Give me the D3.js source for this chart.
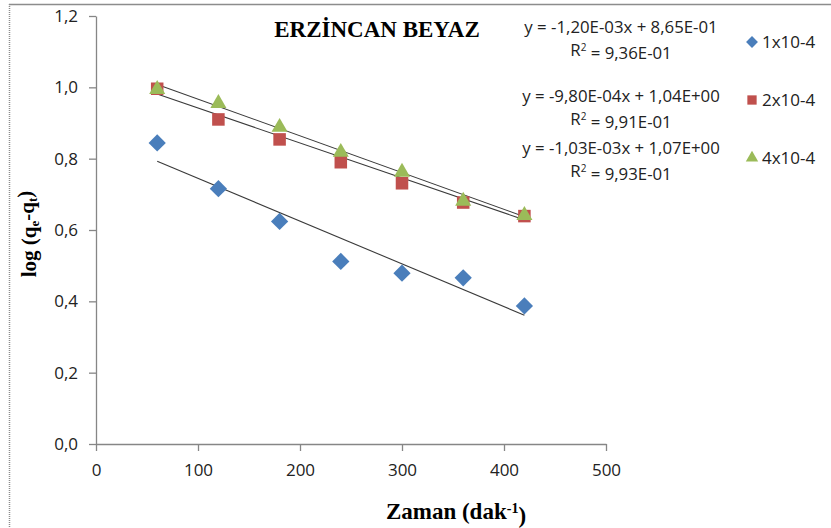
<!DOCTYPE html>
<html>
<head>
<meta charset="utf-8">
<script src="https://cdn.jsdelivr.net/npm/d3@7"></script>
<style>
  html, body { margin: 0; padding: 0; background: #fff; }
  svg { display: block; }
</style>
</head>
<body>
<div id="chart-container"></div>
<script>
// Data
const times = [60, 120, 180, 240, 300, 360, 420];
const series1 = [0.844, 0.716, 0.624, 0.512, 0.479, 0.466, 0.387];
const series2 = [0.996, 0.910, 0.854, 0.790, 0.731, 0.677, 0.639];
const series3 = [0.997, 0.958, 0.891, 0.821, 0.765, 0.684, 0.644];
const seriesNames = ["1x10-4", "2x10-4", "4x10-4"];
const slopes = [-1.20e-3, -9.80e-4, -1.03e-3];
const intercepts = [0.865, 1.04, 1.07];
const equations = [
  "y = -1,20E-03x + 8,65E-01",
  "y = -9,80E-04x + 1,04E+00",
  "y = -1,03E-03x + 1,07E+00"
];
const r2Values = ["9,36E-01", "9,91E-01", "9,93E-01"];
const xTicks = [0, 100, 200, 300, 400, 500];
const yTicks = [0, 0.2, 0.4, 0.6, 0.8, 1.0, 1.2];

const width = 831, height = 528;
const colors = ["#4A7EBB", "#C0504D", "#9BBB59"];
const shapes = [d3.symbolDiamond2, d3.symbolSquare2, d3.symbolTriangle2];
const markerSizes = [190, 200, 185];

const svg = d3.select("#chart-container")
  .append("svg")
  .attr("width", width)
  .attr("height", height);

// outer frame (top + dotted left edge)
svg.append("line")
  .attr("x1", 9).attr("x2", width).attr("y1", 4.5).attr("y2", 4.5)
  .attr("stroke", "#8c8c8c").attr("stroke-width", 1.5);
svg.append("line")
  .attr("x1", 9.5).attr("x2", 9.5).attr("y1", 4).attr("y2", height)
  .attr("stroke", "#8c8c8c").attr("stroke-width", 1.5)
  .attr("stroke-dasharray", "1,1");

const xScale = d3.scaleLinear().domain([0, 500]).range([96, 606]);
const yScale = d3.scaleLinear().domain([0, 1.2]).range([444, 16]);

const fmt = (d) => d3.format(".1f")(d).replace(".", ",");

const xAxis = svg.append("g")
  .attr("transform", `translate(0, ${yScale(0)})`)
  .call(d3.axisBottom(xScale).tickValues(xTicks).tickSize(7).tickPadding(10).tickSizeOuter(0));
const yAxis = svg.append("g")
  .attr("transform", `translate(${xScale(0)}, 0)`)
  .call(d3.axisLeft(yScale).tickValues(yTicks).tickFormat(fmt).tickSize(7).tickPadding(11).tickSizeOuter(0));

[xAxis, yAxis].forEach((g) => {
  g.selectAll("path, line").attr("stroke", "#868686").attr("stroke-width", 1.3);
  g.selectAll("text")
    .attr("fill", "#222")
    .style("font-family", "'Open Sans', sans-serif")
    .style("font-size", "17px");
});
xAxis.selectAll("text").attr("dy", "0.9em");

const allSeries = [series1, series2, series3];

// trendlines
allSeries.forEach((s, i) => {
  const x0 = d3.min(times), x1 = d3.max(times);
  svg.append("line")
    .attr("x1", xScale(x0)).attr("y1", yScale(slopes[i] * x0 + intercepts[i]))
    .attr("x2", xScale(x1)).attr("y2", yScale(slopes[i] * x1 + intercepts[i]))
    .attr("stroke", "#3a3a3a")
    .attr("stroke-width", 1.1);
});

// markers
allSeries.forEach((s, i) => {
  const sym = d3.symbol().type(shapes[i]).size(markerSizes[i]);
  svg.append("g")
    .selectAll("path")
    .data(times.map((t, k) => ({ x: t, y: s[k] })))
    .join("path")
    .attr("d", sym)
    .attr("transform", (d) => `translate(${xScale(d.x)}, ${yScale(d.y) + (i === 2 ? 1 : 0)})`)
    .attr("fill", colors[i]);
});

// title
svg.append("text")
  .attr("x", 377).attr("y", 37)
  .attr("text-anchor", "middle")
  .style("font-family", "'Liberation Serif', 'Times New Roman', serif")
  .style("font-weight", "bold")
  .style("font-size", "23px")
  .text("ERZİNCAN BEYAZ");

// equations + R²
const eqY = [27, 96, 148];
equations.forEach((eq, i) => {
  const t = svg.append("text")
    .attr("x", 621).attr("y", eqY[i])
    .attr("text-anchor", "middle")
    .attr("fill", "#222")
    .style("font-family", "'Open Sans', sans-serif")
    .style("font-size", "16.8px");
  t.append("tspan").attr("x", 621).attr("dy", "0.35em").text(eq);
  const r = t.append("tspan").attr("x", 621).attr("dy", "1.35em").text("R");
  r.append("tspan").attr("dy", "-0.45em").style("font-size", "10px").text("2");
  r.append("tspan").attr("dy", "0.45em").text(" = " + r2Values[i]);
});

// legend
const legendY = [42, 100, 158];
seriesNames.forEach((name, i) => {
  const sym = d3.symbol().type(shapes[i]).size(i === 0 ? 90 : 110);
  svg.append("path")
    .attr("d", sym)
    .attr("transform", `translate(752, ${legendY[i]})`)
    .attr("fill", colors[i]);
  svg.append("text")
    .attr("x", 762).attr("y", legendY[i])
    .attr("dy", "0.35em")
    .attr("fill", "#222")
    .style("font-family", "'Open Sans', sans-serif")
    .style("font-size", "17px")
    .text(name);
});

// axis titles
const xt = svg.append("text")
  .attr("x", 456).attr("y", 519)
  .attr("text-anchor", "middle")
  .style("font-family", "'Liberation Serif', 'Times New Roman', serif")
  .style("font-weight", "bold")
  .style("font-size", "23px");
xt.append("tspan").text("Zaman (dak");
xt.append("tspan").attr("dy", "-0.45em").style("font-size", "14px").text("-1");
xt.append("tspan").attr("dy", "0.45em").text(")");

const yt = svg.append("text")
  .attr("transform", "translate(36, 234) rotate(-90)")
  .attr("text-anchor", "middle")
  .style("font-family", "'Liberation Serif', 'Times New Roman', serif")
  .style("font-weight", "bold")
  .style("font-size", "21px");
yt.append("tspan").text("log (q");
yt.append("tspan").attr("dy", "0.25em").style("font-size", "13px").text("e");
yt.append("tspan").attr("dy", "-0.25em").text("-q");
yt.append("tspan").attr("dy", "0.25em").style("font-size", "13px").text("t");
yt.append("tspan").attr("dy", "-0.25em").text(")");
</script>
</body>
</html>
